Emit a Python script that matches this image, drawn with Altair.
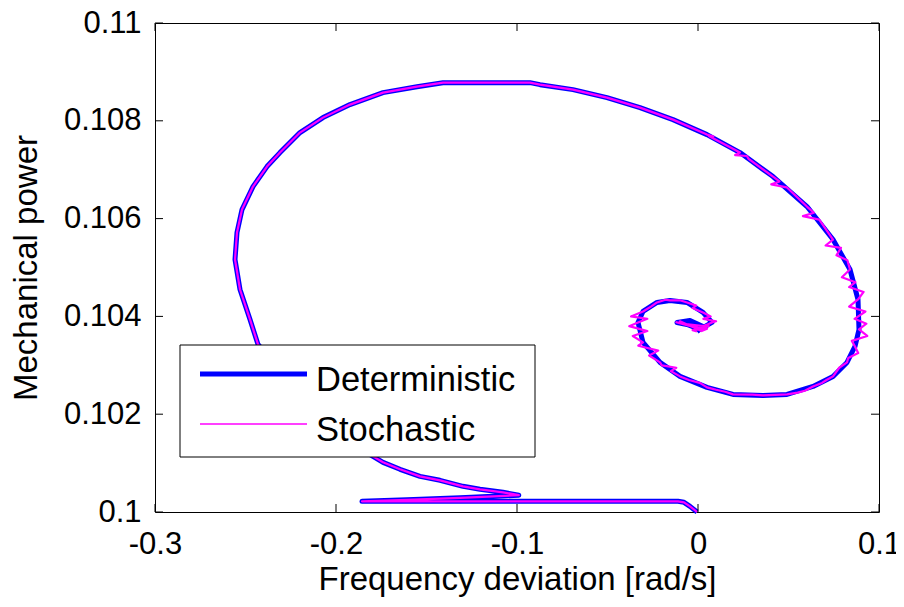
import altair as alt
import pandas as pd

# Deterministic trajectory (frequency deviation, mechanical power)
det_x = [-0.0005, -0.00442, -0.00773, -0.01105, -0.18564, -0.16077, -0.13149, -0.0990,
         -0.10773, -0.12044, -0.12983, -0.14254, -0.15359, -0.16464, -0.17403,
         -0.17956, -0.18950, -0.20221, -0.21713, -0.23094, -0.24309, -0.24751, -0.25304,
         -0.25580, -0.25470, -0.25193, -0.24586, -0.23812, -0.23094, -0.21989, -0.20718,
         -0.19227, -0.17403, -0.15525, -0.14088, -0.09282, -0.08729, -0.06906, -0.05028,
         -0.03204, -0.01381, 0.00497, 0.02320, 0.04144, 0.06022, 0.07459, 0.08398,
         0.08840, 0.08895, 0.08674, 0.08232, 0.07459, 0.06354, 0.04917, 0.03591,
         0.01934, 0.00497, -0.00994, -0.02099, -0.03039, -0.03315, -0.03039, -0.02265,
         -0.01547, -0.00608, 0.00276, 0.00773, 0.00110, -0.00608, -0.01160, -0.00442,
         0.00276, -0.00055]
det_y = [0.10000, 0.100116, 0.100198, 0.100219, 0.100219, 0.100249, 0.100290, 0.100345,
         0.100403, 0.100464, 0.100525, 0.100648, 0.100729, 0.100873, 0.101016,
         0.101138, 0.101363, 0.101731, 0.102303, 0.102875, 0.103427, 0.103938, 0.104550,
         0.105164, 0.105715, 0.106185, 0.106655, 0.107064, 0.107350, 0.107759, 0.108065,
         0.108331, 0.108576, 0.108698, 0.108780, 0.108780, 0.108739, 0.108637, 0.108474,
         0.108269, 0.108024, 0.107718, 0.107350, 0.106859, 0.106246, 0.105572, 0.104959,
         0.104346, 0.103733, 0.103386, 0.103059, 0.102773, 0.102568, 0.102405, 0.102384,
         0.102405, 0.102548, 0.102773, 0.103059, 0.103468, 0.103876, 0.104101, 0.104285,
         0.104326, 0.104285, 0.104081, 0.103876, 0.103733, 0.103835, 0.103876, 0.103917,
         0.103794, 0.103692]

# Stochastic trajectory (same path with noisy excursions on the right part)
sto_x = [-0.0005, -0.00442, -0.00773, -0.01105, -0.18564, -0.16077, -0.13149, -0.0990,
         -0.10773, -0.12044, -0.12983, -0.14254, -0.15359, -0.16464, -0.17403,
         -0.17956, -0.18950, -0.20221, -0.21713, -0.23094, -0.24309, -0.24751, -0.25304,
         -0.25580, -0.25470, -0.25193, -0.24586, -0.23812, -0.23094, -0.21989, -0.20718,
         -0.19227, -0.17403, -0.15525, -0.14088, -0.09282, -0.08729, -0.06906, -0.05028,
         -0.03204, -0.01381, 0.00497, 0.00850, 0.00600, 0.02320, 0.02050, 0.02700,
         0.02800, 0.04144, 0.04500, 0.04050, 0.04900, 0.06022, 0.06400, 0.05800,
         0.06700, 0.07459, 0.07050, 0.07900, 0.07650, 0.08250, 0.08398, 0.07950,
         0.08700, 0.08350, 0.09150, 0.08840, 0.08350, 0.09250, 0.08650, 0.09300,
         0.08895, 0.09350, 0.08500, 0.08674, 0.08850, 0.08300, 0.08232, 0.07800,
         0.07459, 0.07100, 0.06850, 0.06354, 0.05900, 0.05500, 0.04917, 0.03591,
         0.03000, 0.01934, 0.01500, 0.01000, 0.00497, 0.00100, -0.00500, -0.00994,
         -0.01500, -0.01200, -0.02000, -0.02099, -0.02700, -0.02200, -0.03300, -0.03039,
         -0.03600, -0.02800, -0.03800, -0.03315, -0.02800, -0.03700, -0.03039, -0.02600,
         -0.02265, -0.01800, -0.01547, -0.01000, -0.00608, -0.00100, -0.00300, 0.00276,
         0.00700, 0.00300, 0.01000, 0.00773, 0.00300, -0.00800, -0.01200, 0.00000,
         0.00600, -0.00600, -0.01000, 0.00200, 0.00500, -0.00300, -0.00055]
sto_y = [0.10000, 0.100116, 0.100198, 0.100219, 0.100219, 0.100249, 0.100290, 0.100345,
         0.100403, 0.100464, 0.100525, 0.100648, 0.100729, 0.100873, 0.101016,
         0.101138, 0.101363, 0.101731, 0.102303, 0.102875, 0.103427, 0.103938, 0.104550,
         0.105164, 0.105715, 0.106185, 0.106655, 0.107064, 0.107350, 0.107759, 0.108065,
         0.108331, 0.108576, 0.108698, 0.108780, 0.108780, 0.108739, 0.108637, 0.108474,
         0.108269, 0.108024, 0.107718, 0.107680, 0.107690, 0.107350, 0.107300, 0.107280,
         0.107220, 0.106859, 0.106760, 0.106700, 0.106640, 0.106246, 0.106120, 0.106050,
         0.105980, 0.105572, 0.105450, 0.105400, 0.105250, 0.105150, 0.104959, 0.104800,
         0.104700, 0.104600, 0.104500, 0.104346, 0.104200, 0.104100, 0.103950, 0.103850,
         0.103733, 0.103600, 0.103500, 0.103386, 0.103250, 0.103150, 0.103059, 0.102950,
         0.102773, 0.102700, 0.102640, 0.102568, 0.102480, 0.102440, 0.102405, 0.102384,
         0.102400, 0.102405, 0.102460, 0.102500, 0.102548, 0.102640, 0.102700, 0.102773,
         0.102880, 0.102950, 0.103000, 0.103059, 0.103200, 0.103300, 0.103400, 0.103468,
         0.103600, 0.103700, 0.103800, 0.103876, 0.103950, 0.104000, 0.104101, 0.104200,
         0.104285, 0.104340, 0.104326, 0.104330, 0.104285, 0.104220, 0.104170, 0.104081,
         0.104000, 0.103950, 0.103900, 0.103876, 0.103800, 0.103850, 0.103880, 0.103760,
         0.103800, 0.103820, 0.103900, 0.103700, 0.103750, 0.103720, 0.103692]

x_ticks = [-0.3, -0.2, -0.1, 0, 0.1]
y_ticks = [0.1, 0.102, 0.104, 0.106, 0.108, 0.11]
legend_labels = ["Deterministic", "Stochastic"]
series_colors = ["#0000FF", "#FF00FF"]

FONT = "Liberation Sans"
W, H = 724, 489

df_det = pd.DataFrame({"x": det_x, "y": det_y, "i": list(range(len(det_x)))})
df_sto = pd.DataFrame({"x": sto_x, "y": sto_y, "i": list(range(len(sto_x)))})
df_xt = pd.DataFrame({"x": x_ticks})
df_yt = pd.DataFrame({"y": y_ticks})

xs = alt.Scale(domain=[-0.3, 0.1], nice=False, zero=False)
ys = alt.Scale(domain=[0.1, 0.11], nice=False, zero=False)

x_axis = alt.Axis(values=x_ticks, labelExpr="toString(datum.value)",
                  title="Frequency deviation [rad/s]", grid=False, domain=False,
                  ticks=False, tickSize=0, labelPadding=17, labelFont=FONT,
                  labelFontSize=31, labelColor="black", titleFont=FONT,
                  titleFontSize=33, titleFontWeight="normal", titleColor="black",
                  titleBaseline="alphabetic", titleY=77, labelFlush=False)
y_axis = alt.Axis(values=y_ticks, labelExpr="toString(datum.value)",
                  title="Mechanical power", grid=False, domain=False,
                  ticks=False, tickSize=0, labelPadding=14, labelFont=FONT,
                  labelFontSize=31, labelColor="black", titleFont=FONT,
                  titleFontSize=33, titleFontWeight="normal", titleColor="black",
                  titleAngle=270, titleBaseline="alphabetic", titleX=-119,
                  titleY=H / 2, labelFlush=False)

X = alt.X("x:Q", scale=xs, axis=x_axis)
Y = alt.Y("y:Q", scale=ys, axis=y_axis)

det = alt.Chart(df_det).mark_line(color=series_colors[0], strokeWidth=5,
                                  strokeJoin="round").encode(x=X, y=Y, order="i:Q")

sto = alt.Chart(df_sto).mark_line(color=series_colors[1], strokeWidth=2.2,
                                  strokeJoin="round").encode(x=X, y=Y, order="i:Q")

TL = 8
tick_b = alt.Chart(df_xt).mark_rule(color="black", strokeWidth=1).encode(
    x=X, y=alt.value(H), y2=alt.value(H - TL))
tick_t = alt.Chart(df_xt).mark_rule(color="black", strokeWidth=1).encode(
    x=X, y=alt.value(0), y2=alt.value(TL))
tick_l = alt.Chart(df_yt).mark_rule(color="black", strokeWidth=1).encode(
    y=Y, x=alt.value(0), x2=alt.value(TL))
tick_r = alt.Chart(df_yt).mark_rule(color="black", strokeWidth=1).encode(
    y=Y, x=alt.value(W), x2=alt.value(W - TL))

one = pd.DataFrame({"a": [0]})
leg_box = alt.Chart(one).mark_rect(fill="white", stroke="black", strokeWidth=1).encode(
    x=alt.value(25), x2=alt.value(380), y=alt.value(322), y2=alt.value(434))
leg_l1 = alt.Chart(one).mark_rule(color=series_colors[0], strokeWidth=5).encode(
    x=alt.value(45), x2=alt.value(152), y=alt.value(351))
leg_l2 = alt.Chart(one).mark_rule(color=series_colors[1], strokeWidth=1.5).encode(
    x=alt.value(45), x2=alt.value(152), y=alt.value(401))
leg_t1 = alt.Chart(pd.DataFrame({"label": [legend_labels[0]]})).mark_text(
    align="left", baseline="alphabetic", font=FONT, fontSize=34.5, color="black").encode(
    x=alt.value(161), y=alt.value(368), text="label:N")
leg_t2 = alt.Chart(pd.DataFrame({"label": [legend_labels[1]]})).mark_text(
    align="left", baseline="alphabetic", font=FONT, fontSize=34.5, color="black").encode(
    x=alt.value(161), y=alt.value(418), text="label:N")

chart = alt.layer(det, sto, tick_b, tick_t, tick_l, tick_r,
                  leg_box, leg_l1, leg_l2, leg_t1, leg_t2).properties(
    width=W, height=H,
    autosize=alt.AutoSizeParams(type="none"),
    padding={"left": 147, "top": 15, "right": 17, "bottom": 87},
    background="white",
).configure_view(stroke="black", strokeWidth=1)

chart.save("out.html", embed_options={"renderer": "svg", "actions": False})
